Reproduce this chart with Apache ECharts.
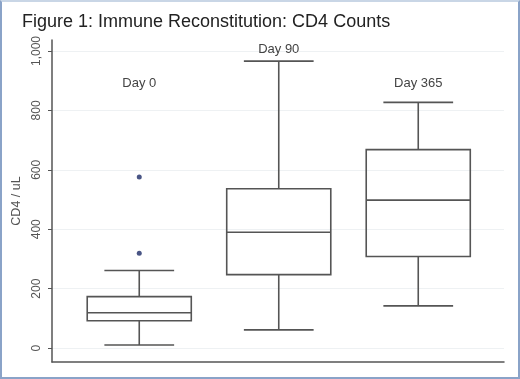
<!DOCTYPE html>
<html>
<head>
<meta charset="utf-8">
<script src="https://cdn.jsdelivr.net/npm/echarts@6/dist/echarts.min.js"></script>
<style>
    html, body { margin: 0; padding: 0; background: #fff; }
    #box {
        width: 520px; height: 379px; box-sizing: border-box;
        border: 2px solid #8aa3c8; border-top-color: #c9d6e6;
    }
</style>
</head>
<body>
<div id="box"></div>
<script>
// categories and box statistics (CD4 / uL)
var categories = ['Day 0', 'Day 90', 'Day 365'];
var whiskerLow = [10, 61, 142];
var q1 = [92, 247, 308];
var median = [119, 390, 498];
var q3 = [173, 536, 668];
var whiskerHigh = [261, 966, 827];
// outliers: [category index, value]
var outliers = [[0, 576], [0, 319]];
var tickValues = [0, 200, 400, 600, 800, 1000];

var boxData = [];
for (var i = 0; i < categories.length; i++) {
    boxData.push([i, whiskerLow[i], q1[i], median[i], q3[i], whiskerHigh[i]]);
}

var lineColor = '#555';
var font = 'Liberation Sans, Arial, sans-serif';

function renderBox(params, api) {
    var idx = api.value(0);
    var band = api.size([1, 0])[0];
    var boxHalf = band * 0.373;
    var capHalf = band * 0.25;
    var pLow = api.coord([idx, api.value(1)]);
    var pQ1 = api.coord([idx, api.value(2)]);
    var pMed = api.coord([idx, api.value(3)]);
    var pQ3 = api.coord([idx, api.value(4)]);
    var pHigh = api.coord([idx, api.value(5)]);
    var x = pMed[0];
    var style = {stroke: lineColor, lineWidth: 1.6, fill: null};
    return {
        type: 'group',
        children: [
            {type: 'rect', shape: {x: x - boxHalf, y: pQ3[1], width: boxHalf * 2, height: pQ1[1] - pQ3[1]}, style: style},
            {type: 'line', shape: {x1: x - boxHalf, y1: pMed[1], x2: x + boxHalf, y2: pMed[1]}, style: style},
            {type: 'line', shape: {x1: x, y1: pQ3[1], x2: x, y2: pHigh[1]}, style: style},
            {type: 'line', shape: {x1: x, y1: pQ1[1], x2: x, y2: pLow[1]}, style: style},
            {type: 'line', shape: {x1: x - capHalf, y1: pHigh[1], x2: x + capHalf, y2: pHigh[1]}, style: style},
            {type: 'line', shape: {x1: x - capHalf, y1: pLow[1], x2: x + capHalf, y2: pLow[1]}, style: style}
        ]
    };
}

var chart = echarts.init(document.getElementById('box'), null, {width: 516, height: 376});

var option = {
    animation: false,
    title: {
        text: 'Figure 1: Immune Reconstitution: CD4 Counts',
        left: 15,
        top: 6,
        textStyle: {
            fontFamily: font,
            fontSize: 18,
            fontWeight: 'normal',
            color: '#222'
        }
    },
    grid: [
        {left: 50, right: 14, top: 38, bottom: 16},
        {left: 67.5, right: 30, top: 38, bottom: 16}
    ],
    xAxis: [
        {
            type: 'value', gridIndex: 0, min: 0, max: 1,
            axisLine: {show: true, onZero: false, lineStyle: {color: lineColor, width: 1.5}},
            axisTick: {show: false},
            axisLabel: {show: false},
            splitLine: {show: false}
        },
        {
            type: 'category', gridIndex: 1, position: 'top',
            data: categories,
            axisLine: {show: false},
            axisTick: {show: false},
            splitLine: {show: false},
            axisLabel: {
                inside: true,
                margin: 3,
                formatter: function (v, i) {
                    return i === 1 ? '{hi|' + v + '}' : '{lo|' + v + '}';
                },
                rich: {
                    hi: {fontSize: 13, color: '#444', fontFamily: font},
                    lo: {fontSize: 13, color: '#444', fontFamily: font, padding: [34, 0, 0, 0]}
                }
            }
        }
    ],
    yAxis: [
        {
            type: 'value', gridIndex: 0, min: -47, max: 1037,
            name: 'CD4 / uL',
            nameLocation: 'middle',
            nameGap: 29,
            nameMoveOverlap: false,
            nameTextStyle: {fontSize: 12.5, color: '#555', fontFamily: font},
            axisLine: {show: true, lineStyle: {color: lineColor, width: 1.5}},
            axisTick: {show: true, length: 4, customValues: tickValues, lineStyle: {color: lineColor}},
            axisLabel: {
                customValues: tickValues,
                rotate: 90,
                margin: 9,
                fontSize: 12,
                color: '#555',
                fontFamily: font,
                formatter: function (v) {
                    return v >= 1000 ? Math.floor(v / 1000) + ',' + ('00' + (v % 1000)).slice(-3) : String(v);
                }
            },
            splitLine: {show: true, lineStyle: {color: '#eef1f3', width: 1}}
        },
        {
            type: 'value', gridIndex: 1, min: -47, max: 1037,
            show: false,
            splitLine: {show: false}
        }
    ],
    series: [
        {
            type: 'custom',
            xAxisIndex: 1,
            yAxisIndex: 1,
            renderItem: renderBox,
            encode: {x: 0, y: [1, 2, 3, 4, 5]},
            data: boxData
        },
        {
            type: 'scatter',
            xAxisIndex: 1,
            yAxisIndex: 1,
            symbolSize: 5,
            itemStyle: {color: '#1b2a66'},
            data: outliers
        }
    ]
};

chart.setOption(option);
window.addEventListener('resize', function () {
    chart.resize();
});
</script>
</body>
</html>
